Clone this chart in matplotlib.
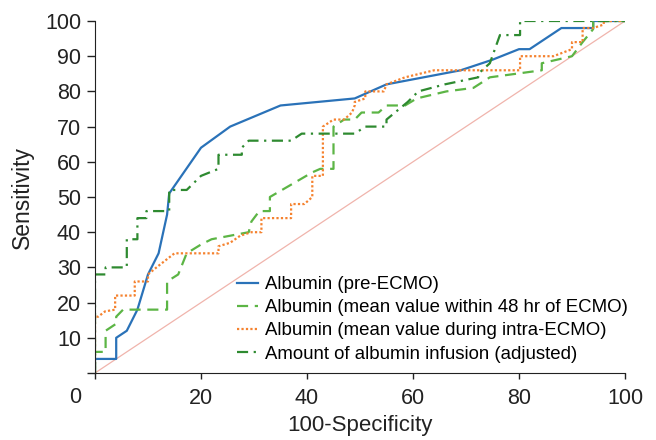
import matplotlib
matplotlib.use("Agg")
import matplotlib.pyplot as plt

plt.rcParams['font.family'] = ['Liberation Sans', 'DejaVu Sans']

# ROC curves (x = 100-specificity, y = sensitivity)
pre_x = [0, 0, 4, 4, 6, 8, 10, 12, 13.6, 14, 20, 25.5, 35, 49, 55, 69, 75, 80, 82, 88, 94, 94, 100]
pre_y = [0, 4, 4, 10, 12, 18, 28, 34, 45, 51, 64, 70, 76, 78, 82, 86, 89, 92, 92, 98, 98, 100, 100]

within48_x = [0, 0, 2, 2, 4, 4, 5.3, 13.6, 13.6, 15.7, 17.3, 20, 22, 25.5, 29, 29.5, 31, 33, 33, 41,
              42.5, 45, 45, 47, 49, 50.3, 53.5, 55, 58.5, 60.7, 66.3, 71.4, 74.5, 84.3, 84.3, 90, 92,
              94, 94, 100]
within48_y = [0, 6, 6, 12, 14, 16, 18, 18, 26, 28, 34, 36.5, 38, 39, 40, 43, 46, 46, 50, 57,
              58, 58, 70, 72, 72, 74, 74, 76, 76, 78, 80, 81, 84, 86, 88, 90, 94,
              97.7, 100, 100]

intra_x = [0, 0, 0.6, 1.9, 3.8, 3.8, 7.5, 7.5, 10, 10, 11.6, 15, 23.3, 23.3, 25.5, 27.4, 29.5, 31.4,
           31.4, 37, 37, 39.5, 41, 41, 43, 43, 45, 47, 48.5, 49, 49, 51, 51, 54.5, 55, 58.5, 64,
           80.2, 80.2, 86.5, 90, 90, 92, 92, 94, 96, 96, 100]
intra_y = [0, 16, 16, 17.5, 18, 22, 22, 26, 26, 28, 30, 34, 34, 36, 37, 39, 40, 40,
           44, 44, 48, 48, 50, 56, 56, 70, 72, 72, 74, 76, 77, 78, 80, 80, 82, 84, 86,
           86, 90, 90, 92, 94, 94, 98, 98, 99, 100, 100]

infusion_x = [0, 0, 2, 2, 6, 6, 8, 8, 9.7, 9.7, 14, 14, 17.3, 20, 23.3, 23.3, 27.7, 27.7, 29, 37,
              39, 49, 51, 55, 55, 59, 61, 66, 72.3, 72.3, 74.5, 76.4, 80.2, 80.2, 100]
infusion_y = [0, 28, 28, 30, 30, 38, 38, 44, 44, 46, 46, 52, 52, 56, 58, 62, 62, 64, 66, 66,
              68, 68, 70, 70, 72, 77, 80, 82, 84, 85, 88, 96, 96, 100, 100]

labels = ['Albumin (pre-ECMO)',
          'Albumin (mean value within 48 hr of ECMO)',
          'Albumin (mean value during intra-ECMO)',
          'Amount of albumin infusion (adjusted)']

fig = plt.figure(figsize=(6.56, 4.40), dpi=100)
ax = fig.add_axes([95/656, 1 - 373/440, 530/656, 352/440])

ax.plot([0, 100], [0, 100], color='#f0b4ac', lw=0.9)
ax.plot(pre_x, pre_y, color='#2a72b8', lw=1.6, ls='-', label=labels[0])
ax.plot(within48_x, within48_y, color='#5cb545', lw=1.6, ls=(0, (5, 3)), label=labels[1])
ax.plot(intra_x, intra_y, color='#f5822f', lw=1.6, ls=(0, (1, 1)), label=labels[2])
ax.plot(infusion_x, infusion_y, color='#2e8a30', lw=1.6, ls=(0, (5, 2.5, 1, 2.5)), label=labels[3])

ax.set_xlim(0, 100)
ax.set_ylim(0, 100)
ax.set_xticks(range(0, 101, 20))
ax.set_xticklabels([''] + [str(v) for v in range(20, 101, 20)])
ax.set_yticks(range(0, 101, 10))
ax.set_yticklabels([''] + [str(v) for v in range(10, 101, 10)])
ax.tick_params(labelsize=15.5, width=1, colors='#222222', direction='out')
ax.tick_params(axis='x', length=4.5, pad=6.5)
ax.tick_params(axis='y', length=5.5, pad=4.5)
ax.annotate('0', (0, 0), xytext=(-14.4, -17.6), textcoords='offset points',
            fontsize=15.5, color='#222222', ha='center', va='center', annotation_clip=False)
for s in ['top', 'right']:
    ax.spines[s].set_visible(False)
for s in ['left', 'bottom']:
    ax.spines[s].set_color('#222222')

ax.set_xlabel('100-Specificity', fontsize=16, color='#222222', labelpad=4)
ax.set_ylabel('Sensitivity', fontsize=16.5, color='#222222', labelpad=8)

ax.legend(loc='upper left', bbox_to_anchor=(237/656, 1 - 276/440), bbox_transform=fig.transFigure,
          frameon=False, fontsize=13.4, handlelength=1.15, handletextpad=0.35,
          labelspacing=0.33, borderpad=0, borderaxespad=0)

fig.savefig('out.png', dpi=100)
